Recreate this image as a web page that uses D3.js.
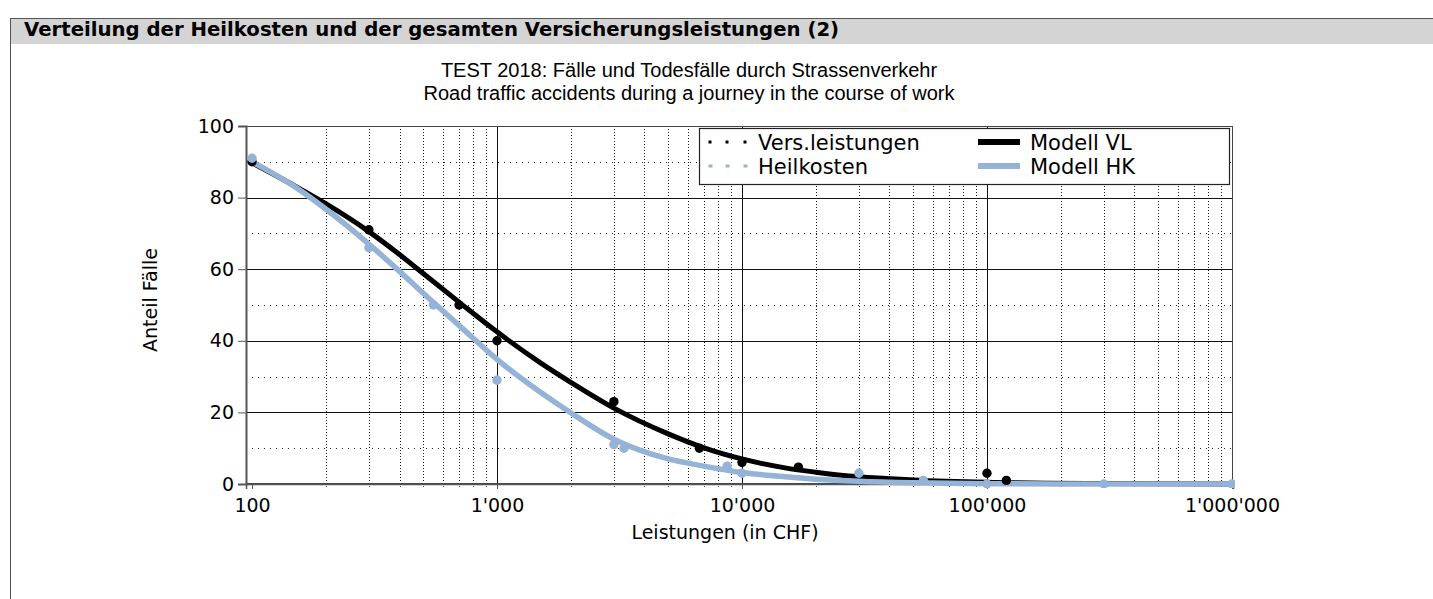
<!DOCTYPE html>
<html>
<head>
<meta charset="utf-8">
<script src="https://cdn.jsdelivr.net/npm/d3@7"></script>
<style>
  html, body { margin: 0; padding: 0; background: #fff; }
  svg { display: block; }
</style>
</head>
<body>
<svg id="chart" width="1433" height="599"></svg>
<script>
// ---------- data ----------
const vlX = [100, 300, 700, 1000, 3000, 6700, 10000, 17000, 100000, 120000];
const vlY = [90, 71, 50, 40, 23, 10, 6, 4.7, 3, 1];

const hkX = [100, 300, 550, 1000, 3000, 3300, 8700, 10000, 30000, 55000, 100000, 300000, 1000000];
const hkY = [91, 66, 50, 29, 11, 10, 5, 3, 3, 1, 0, 0, 0];

const modelX = [100, 150, 200, 300, 400, 500, 700, 1000, 1500, 2000, 3000, 5000, 7000, 10000, 15000, 20000, 30000, 50000, 100000, 300000, 1000000];
const modelVlY = [89.7, 83.2, 78.3, 70.5, 64.1, 58.8, 50.8, 42.5, 33.9, 28.4, 21.2, 14.0, 10.1, 7.0, 4.5, 3.3, 2.0, 1.15, 0.5, 0.13, 0];
const modelHkY = [90, 83, 76.8, 67.0, 59.4, 53.3, 44.3, 34.8, 25.7, 19.9, 12.5, 7.0, 5.0, 3.2, 2.0, 1.35, 0.75, 0.33, 0.08, 0.01, 0];

const xTickValues = [100, 1000, 10000, 100000, 1000000];
const xTickLabels = ["100", "1'000", "10'000", "100'000", "1'000'000"];
const yTickValues = [0, 20, 40, 60, 80, 100];
const yMinorValues = [10, 30, 50, 70, 90];

const seriesNames = ["Vers.leistungen", "Heilkosten", "Modell VL", "Modell HK"];

// ---------- layout ----------
const BLUE = "#95B3D7";
const svg = d3.select("#chart");
const L = 246, R = 1233, T = 126, B = 484;

const x = d3.scaleLog().domain([94.5, 1.01e6]).range([L, R]);
const y = d3.scaleLinear().domain([0, 100]).range([B, T]);

// frame + header
svg.append("rect").attr("x", 10).attr("y", 18).attr("width", 1423).attr("height", 26)
  .attr("fill", "#d4d4d4");
svg.append("line").attr("x1", 10).attr("x2", 1433).attr("y1", 18.5).attr("y2", 18.5)
  .attr("stroke", "#555").attr("stroke-width", 1);
svg.append("line").attr("x1", 10.5).attr("x2", 10.5).attr("y1", 18).attr("y2", 599)
  .attr("stroke", "#555").attr("stroke-width", 1);
svg.append("text").attr("x", 24).attr("y", 35.5)
  .attr("font-family", "DejaVu Sans, Verdana, sans-serif").attr("font-weight", "bold")
  .attr("font-size", 19.7).attr("fill", "#000")
  .text("Verteilung der Heilkosten und der gesamten Versicherungsleistungen (2)");

// chart titles
const titleG = svg.append("g").attr("font-family", "Liberation Sans, Arial, sans-serif")
  .attr("font-size", 20).attr("text-anchor", "middle").attr("fill", "#000");
titleG.append("text").attr("x", 689).attr("y", 77).text("TEST 2018: Fälle und Todesfälle durch Strassenverkehr");
titleG.append("text").attr("x", 689).attr("y", 100).text("Road traffic accidents during a journey in the course of work");

// plot background
svg.append("rect").attr("x", L).attr("y", T).attr("width", R - L).attr("height", B - T).attr("fill", "#fff");

// minor grid
const decades = xTickValues.slice(0, -1);
const minorX = [];
decades.forEach(d => { for (let k = 2; k <= 9; k++) minorX.push(d * k); });

const grid = svg.append("g");
grid.selectAll("line.vminor").data(minorX).join("line")
  .attr("x1", d => Math.round(x(d)) + 0.5).attr("x2", d => Math.round(x(d)) + 0.5)
  .attr("y1", T).attr("y2", B)
  .attr("stroke", "#222").attr("stroke-width", 1).attr("stroke-dasharray", "1,2");
grid.selectAll("line.hminor").data(yMinorValues).join("line")
  .attr("x1", L).attr("x2", R)
  .attr("y1", d => Math.round(y(d)) + 0.5).attr("y2", d => Math.round(y(d)) + 0.5)
  .attr("stroke", "#222").attr("stroke-width", 1).attr("stroke-dasharray", "1,5");
// major grid
grid.selectAll("line.vmajor").data(xTickValues.slice(1, -1)).join("line")
  .attr("x1", d => Math.round(x(d)) + 0.5).attr("x2", d => Math.round(x(d)) + 0.5)
  .attr("y1", T).attr("y2", B).attr("stroke", "#111").attr("stroke-width", 1);
grid.selectAll("line.hmajor").data(yTickValues.slice(1, -1)).join("line")
  .attr("x1", L).attr("x2", R)
  .attr("y1", d => Math.round(y(d)) + 0.5).attr("y2", d => Math.round(y(d)) + 0.5)
  .attr("stroke", "#111").attr("stroke-width", 1);

// plot border
svg.append("rect").attr("x", L + 0.5).attr("y", T + 0.5).attr("width", R - L - 1).attr("height", B - T - 1)
  .attr("fill", "none").attr("stroke", "#444").attr("stroke-width", 1);

// axes
const fontAxis = "DejaVu Sans, Verdana, sans-serif";
const xAxis = d3.axisBottom(x).tickValues(xTickValues)
  .tickFormat((d, i) => xTickLabels[i]).tickSize(5).tickPadding(10);
const gx = svg.append("g").attr("transform", `translate(0,${B})`).call(xAxis);
gx.select(".domain").attr("stroke", "#555").attr("stroke-width", 1.5);
gx.selectAll(".tick line").attr("stroke", "#555");
gx.selectAll(".tick text").attr("font-family", fontAxis).attr("font-size", 19).attr("fill", "#000");
// minor ticks on x axis
svg.append("g").selectAll("line").data(minorX).join("line")
  .attr("x1", d => Math.round(x(d)) + 0.5).attr("x2", d => Math.round(x(d)) + 0.5)
  .attr("y1", B).attr("y2", B + 4).attr("stroke", "#555").attr("stroke-dasharray", "1,1");

const yAxis = d3.axisLeft(y).tickValues(yTickValues).tickSize(8).tickPadding(4);
const gy = svg.append("g").attr("transform", `translate(${L},0)`).call(yAxis);
gy.select(".domain").attr("stroke", "#555").attr("stroke-width", 2);
gy.selectAll(".tick line").attr("stroke", "#555");
gy.selectAll(".tick text").attr("font-family", fontAxis).attr("font-size", 19).attr("fill", "#000");

// axis titles
svg.append("text").attr("x", 725).attr("y", 539).attr("text-anchor", "middle")
  .attr("font-family", fontAxis).attr("font-size", 19).text("Leistungen (in CHF)");
svg.append("text").attr("transform", "translate(157,300) rotate(-90)").attr("text-anchor", "middle")
  .attr("font-family", fontAxis).attr("font-size", 19).text("Anteil Fälle");

// model lines
svg.append("clipPath").attr("id", "plotclip")
  .append("rect").attr("x", L).attr("y", T - 10).attr("width", R - L + 2).attr("height", B - T + 14);

const line = d3.line().x(d => x(d[0])).y(d => y(d[1])).curve(d3.curveMonotoneX);
const modelVl = modelX.map((v, i) => [v, modelVlY[i]]);
const modelHk = modelX.map((v, i) => [v, modelHkY[i]]);

const plot = svg.append("g").attr("clip-path", "url(#plotclip)");
plot.append("path").datum(modelVl).attr("d", line)
  .attr("fill", "none").attr("stroke", "#000").attr("stroke-width", 5).attr("stroke-linejoin", "round");
plot.append("path").datum(modelHk).attr("d", line)
  .attr("fill", "none").attr("stroke", BLUE).attr("stroke-width", 5.5).attr("stroke-linejoin", "round");

// points
const vl = vlX.map((v, i) => [v, vlY[i]]);
const hk = hkX.map((v, i) => [v, hkY[i]]);
plot.selectAll("circle.vl").data(vl).join("circle")
  .attr("cx", d => x(d[0])).attr("cy", d => y(d[1])).attr("r", 4.7).attr("fill", "#000");
plot.selectAll("circle.hk").data(hk).join("circle")
  .attr("cx", d => x(d[0])).attr("cy", d => y(d[1])).attr("r", 4.7).attr("fill", BLUE);

// legend
const lg = svg.append("g");
lg.append("rect").attr("x", 699.5).attr("y", 128.5).attr("width", 530).attr("height", 56)
  .attr("fill", "#fff").attr("stroke", "#222").attr("stroke-width", 1.2);
const legendFont = 21;
const rowY = [142, 166];
[0, 1].forEach(r => {
  [710, 727, 745].forEach(cx => {
    lg.append("rect").attr("x", cx - 1.5).attr("y", rowY[r] - 1.5).attr("width", r ? 4 : 3).attr("height", 3)
      .attr("fill", r ? BLUE : "#000");
  });
  lg.append("text").attr("x", 758).attr("y", rowY[r] + 8).attr("font-family", fontAxis)
    .attr("font-size", legendFont).text(seriesNames[r]);
});
[2, 3].forEach((s, r) => {
  lg.append("line").attr("x1", 978).attr("x2", 1020).attr("y1", rowY[r]).attr("y2", rowY[r])
    .attr("stroke", r ? BLUE : "#000").attr("stroke-width", 6);
  lg.append("text").attr("x", 1030).attr("y", rowY[r] + 8).attr("font-family", fontAxis)
    .attr("font-size", legendFont).text(seriesNames[s]);
});
</script>
</body>
</html>
